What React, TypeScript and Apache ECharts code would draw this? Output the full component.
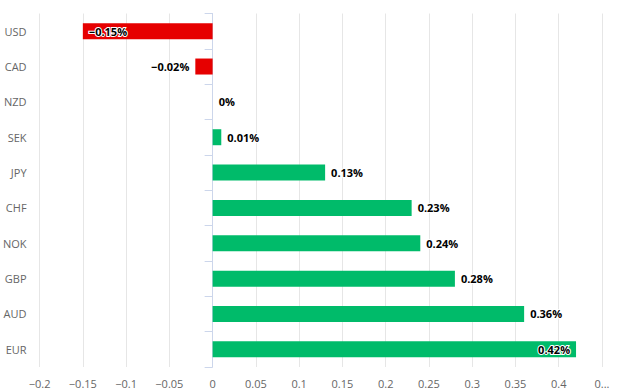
import React, { useEffect, useRef } from "react";
import * as echarts from "echarts";

const categories = ["USD", "CAD", "NZD", "SEK", "JPY", "CHF", "NOK", "GBP", "AUD", "EUR"];
const values = [-0.15, -0.02, 0, 0.01, 0.13, 0.23, 0.24, 0.28, 0.36, 0.42];
const axisMin = -0.2;
const axisMax = 0.45;
const axisStep = 0.05;

const RED = "#e60000";
const GREEN = "#00bb6a";

const fmtNum = (v: number) => {
  const s = String(Math.round(v * 100) / 100);
  return s.replace("-", "\u2212");
};

export default function App() {
  const ref = useRef<HTMLDivElement>(null);
  useEffect(() => {
    if (!ref.current) return;
    const chart = echarts.init(ref.current, undefined, { renderer: "svg" });
    const data = values.map((v) => {
      let position: any = v < 0 ? "left" : "right";
      if (v <= -0.1) position = "insideLeft";
      if (v >= 0.4) position = "insideRight";
      return {
        value: v,
        itemStyle: { color: v < 0 ? RED : GREEN },
        label: { position },
      };
    });
    chart.setOption({
      animation: false,
      grid: { left: 35, right: 25, top: 13.5, bottom: 25 },
      xAxis: {
        type: "value",
        min: axisMin,
        max: axisMax,
        interval: axisStep,
        axisLine: { show: false },
        axisTick: { show: false },
        splitLine: { show: true, lineStyle: { color: "#e6e6e6", width: 1 } },
        axisLabel: {
          color: "#666666",
          fontSize: 11,
          fontFamily: "Open Sans",
          margin: 11,
          formatter: (v: number) => (Math.abs(v - axisMax) < 1e-9 ? "0..." : fmtNum(v)),
        },
      },
      yAxis: {
        type: "category",
        data: categories,
        inverse: true,
        axisLine: { show: true, lineStyle: { color: "#ccd6eb" } },
        axisTick: { show: true, length: 8, lineStyle: { color: "#ccd6eb" } },
        splitLine: { show: false },
        axisLabel: {
          color: "#666666",
          fontSize: 11,
          fontFamily: "Open Sans",
          margin: 13,
        },
      },
      series: [
        {
          type: "bar",
          data,
          barWidth: 16,
          label: {
            show: true,
            distance: 6,
            color: "#000000",
            fontSize: 11,
            fontWeight: "bold",
            fontFamily: "Open Sans",
            textBorderColor: "#ffffff",
            textBorderWidth: 2,
            formatter: (p: any) => fmtNum(p.value) + "%",
          },
        },
      ],
    });
    return () => chart.dispose();
  }, []);
  return <div ref={ref} style={{ width: 627, height: 392, position: "absolute", left: 0, top: 0 }} />;
}
